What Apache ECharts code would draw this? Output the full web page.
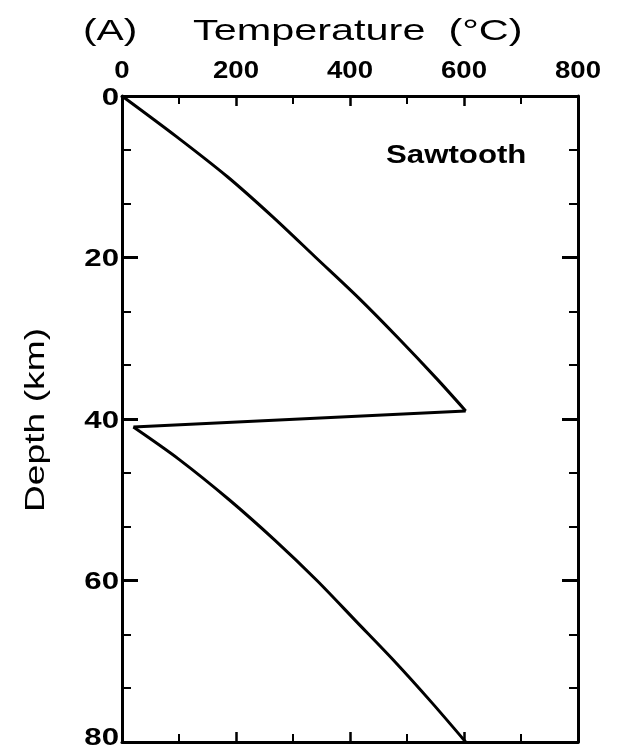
<!DOCTYPE html>
<html>
<head>
<meta charset="utf-8">
<script src="https://cdn.jsdelivr.net/npm/echarts@6/dist/echarts.min.js"></script>
<style>
  html, body { margin: 0; padding: 0; background: #fff; }
  #chart { width: 619px; height: 748px; }
</style>
</head>
<body>
<div id="chart"></div>
<script>
// upper limb of the sawtooth geotherm: depth (km) and temperature (°C)
var upperDepth = [0, 5, 10, 15, 20, 25, 30, 35, 39];
var upperTemp  = [0, 95, 185, 265, 340, 415, 485, 552, 603];
// reset at 41 km, then the lower limb
var lowerDepth = [41, 45, 50, 55, 60, 65, 70, 75, 80];
var lowerTemp  = [20, 100, 188, 268, 342, 410, 478, 542, 603];

var tempTicks = [0, 200, 400, 600, 800];
var depthTicks = [0, 20, 40, 60, 80];

var upperPts = upperDepth.map(function (d, i) { return [upperTemp[i], d]; });
var lowerPts = lowerDepth.map(function (d, i) { return [lowerTemp[i], d]; });
// the sharp reset between the two limbs
var resetPts = [upperPts[upperPts.length - 1], lowerPts[0]];

var font = '"Liberation Sans", Arial, sans-serif';
var black = '#000';

function xAxisOpt(pos) {
    return {
        type: 'value', position: pos, min: 0, max: 800, interval: 200,
        axisLine: {onZero: false, lineStyle: {color: black, width: 3}},
        axisTick: {inside: true, length: 10, lineStyle: {color: black, width: 2.5}},
        minorTick: {show: true, splitNumber: 2, length: 8, lineStyle: {color: black, width: 2}},
        axisLabel: {show: false},
        splitLine: {show: false}
    };
}
function yAxisOpt(pos) {
    return {
        type: 'value', position: pos, inverse: true, min: 0, max: 80, interval: 20,
        axisLine: {onZero: false, lineStyle: {color: black, width: 3}},
        axisTick: {inside: true, length: 16, lineStyle: {color: black, width: 3}},
        minorTick: {show: true, splitNumber: 3, length: 9, lineStyle: {color: black, width: 2}},
        axisLabel: {show: false},
        splitLine: {show: false}
    };
}
function lineSeries(data, smooth) {
    return {
        type: 'line', xAxisIndex: 0, yAxisIndex: 0,
        data: data, smooth: smooth, showSymbol: false,
        lineStyle: {color: black, width: 3, join: 'miter'}
    };
}

var chart = echarts.init(document.getElementById('chart'));
chart.setOption({
    animation: false,
    grid: {left: 122, top: 96, right: 41, bottom: 6},
    xAxis: [xAxisOpt('top'), xAxisOpt('bottom')],
    yAxis: [yAxisOpt('left'), yAxisOpt('right')],
    series: [
        lineSeries(upperPts, 0.3),
        lineSeries(resetPts, false),
        lineSeries(lowerPts, 0.3)
    ]
});

// texts, stretched a little to match the wide lettering of the original
var g = [];
function txt(str, x, y, size, weight, align, sx, rot) {
    g.push({
        type: 'text', x: x, y: y, scaleX: sx, rotation: rot || 0, silent: true,
        style: {
            text: str, font: weight + ' ' + size + 'px ' + font, fill: black,
            align: align, verticalAlign: 'middle'
        }
    });
}
txt('(A)', 83, 32, 30, 'normal', 'left', 1.36);
txt('Temperature  (°C)', 193, 32, 30, 'normal', 'left', 1.38);
tempTicks.forEach(function (v) {
    var px = chart.convertToPixel({xAxisIndex: 0}, v);
    txt(String(v), px, 71, 24, 'bold', 'center', 1.15);
});
depthTicks.forEach(function (v) {
    var py = chart.convertToPixel({yAxisIndex: 0}, v);
    txt(String(v), 119, Math.min(py + 2, 738), 24, 'bold', 'right', 1.3);
});
txt('Depth (km)', 36, 420, 28, 'normal', 'center', 1.33, Math.PI / 2);
txt('Sawtooth', 386, 156, 26, 'bold', 'left', 1.2);
chart.setOption({graphic: g});
</script>
</body>
</html>
